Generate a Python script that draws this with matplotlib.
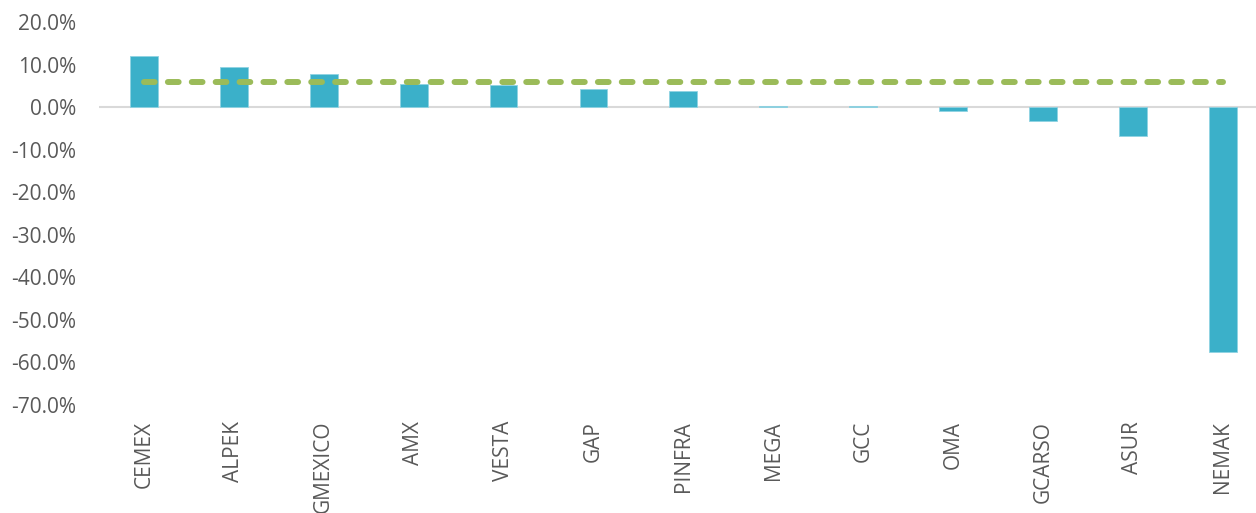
import matplotlib
matplotlib.use("Agg")
import matplotlib.pyplot as plt
from matplotlib.ticker import FuncFormatter, MultipleLocator

categories = ["CEMEX", "ALPEK", "GMEXICO", "AMX", "VESTA", "GAP", "PINFRA",
              "MEGA", "GCC", "OMA", "GCARSO", "ASUR", "NEMAK"]
returns = [0.119, 0.094, 0.078, 0.055, 0.053, 0.043, 0.038,
           0.003, 0.002, -0.010, -0.032, -0.068, -0.576]
benchmark = [0.059] * len(categories)

plt.rcParams['font.family'] = ['Open Sans', 'DejaVu Sans']

fig = plt.figure(figsize=(12.56, 5.13), dpi=100)
ax = fig.add_axes([99/1256, (513-405)/513, (1256-99)/1256, (405-22)/513])

x = list(range(len(categories)))
ax.bar(x, returns, width=0.31, color="#3BB0C9", edgecolor="#8FD3E2", linewidth=0.6, zorder=2)
ax.plot(x, benchmark, color="#9BBB59", lw=4.3, linestyle=(0, (1.8, 2.2)),
        dash_capstyle="round", zorder=3)

ax.axhline(0, color="#D9D9D9", lw=1.5, zorder=1)

ax.set_ylim(-0.7, 0.2)
ax.set_xlim(-0.5, 12.37)
ax.yaxis.set_major_locator(MultipleLocator(0.1))
ax.yaxis.set_major_formatter(FuncFormatter(lambda v, p: f"{v*100:.1f}%"))
ax.set_xticks(x)
ax.set_xticklabels(categories, rotation=90, va="top", ha="center")

for s in ax.spines.values():
    s.set_visible(False)
ax.tick_params(axis="both", length=0, labelsize=15, colors="#595959")
ax.tick_params(axis="x", pad=11.5)
ax.tick_params(axis="y", pad=16.5)

fig.savefig("out.png", dpi=100)
